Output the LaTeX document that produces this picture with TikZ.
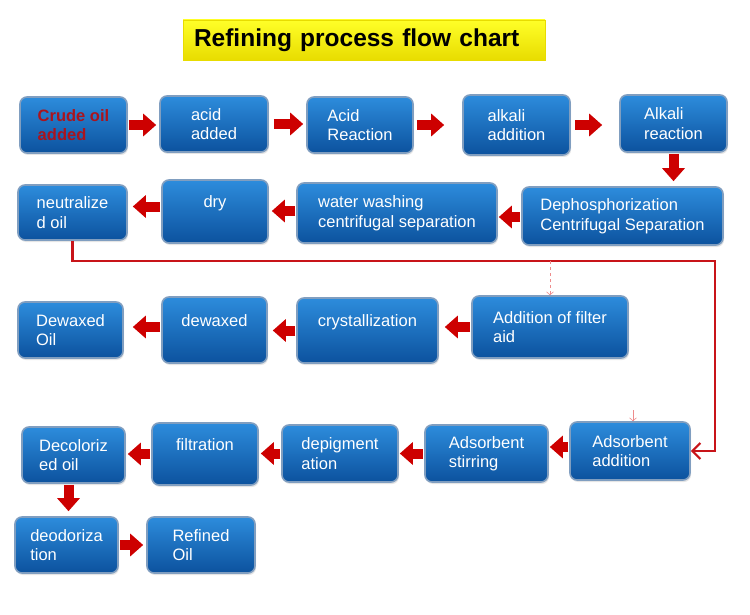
\documentclass[tikz,border=0pt]{standalone}
\usepackage{fontspec}
\setmainfont{Liberation Sans}
\usetikzlibrary{arrows.meta,shadows}
\definecolor{box_top}{RGB}{45,140,220}
\definecolor{box_bot}{RGB}{12,82,158}
\definecolor{box_rim}{RGB}{128,158,192}
\definecolor{edge_red}{RGB}{205,0,0}
\definecolor{line_red}{RGB}{200,20,25}
\definecolor{tap_red}{RGB}{238,140,140}
\definecolor{title_yell}{RGB}{255,255,40}
\definecolor{title_dark}{RGB}{232,220,0}
\definecolor{crude_red}{RGB}{170,20,30}

\begin{document}
\begin{tikzpicture}[x=1pt,y=-1pt,semithick]
    \tikzstyle{box}=[draw=box_rim, line width=1.6pt, rounded corners=7pt, top color=box_top, bottom color=box_bot, text=white, align=left, inner sep=0pt, font=\fontsize{16.5}{19.5}\selectfont, drop shadow={opacity=0.2,shadow xshift=1pt,shadow yshift=-2pt}]
    \tikzstyle{title}=[draw=title_dark, top color=title_yell, bottom color=title_dark, minimum width=362pt, minimum height=40pt, text width=340pt, inner xsep=11pt, align=left, font=\bfseries\fontsize{24.5}{29}\selectfont]
    \tikzstyle{flow}=[-{Triangle[width=22pt,length=13pt]}, line width=10pt, draw=edge_red, shorten <=1pt, shorten >=3pt]
    \tikzstyle{route}=[-{Straight Barb[length=8pt,width=16pt]}, line width=2.2pt, draw=line_red]
    \tikzstyle{tap}=[-{Straight Barb[length=3pt,width=7pt]}, semithick, dashed, draw=tap_red]

    \path[use as bounding box, fill=white] (0,0) rectangle (750,615);

    \node[title] (head) at (364,40) {Refining process flow chart};

    % row 1
    \node[box,minimum width=107pt,minimum height=56pt] (crude)    at (73.5,125)  {\color{crude_red}\bfseries Crude oil\\\color{crude_red}\bfseries added};
    \node[box,minimum width=108pt,minimum height=56pt] (acidadd)  at (214,124)   {acid\\added};
    \node[box,minimum width=106pt,minimum height=56pt] (acidreac) at (360,125)   {Acid\\Reaction};
    \node[box,minimum width=107pt,minimum height=60pt] (alkadd)   at (516.5,125) {alkali\\addition};
    \node[box,minimum width=107pt,minimum height=57pt] (alkreac)  at (673.5,123.5) {Alkali\\reaction};

    % row 2
    \node[box,minimum width=201pt,minimum height=58pt] (dephos)   at (622.5,216) {Dephosphorization\\Centrifugal Separation};
    \node[box,minimum width=200pt,minimum height=60pt] (wash)     at (397,213)   {water washing\\centrifugal separation};
    \node[box,minimum width=106pt,minimum height=63pt] (dry)      at (215,211.5) {dry\\~};
    \node[box,minimum width=109pt,minimum height=55pt] (neutral)  at (72.5,212.5) {neutralize\\d oil};

    % row 3
    \node[box,minimum width=156pt,minimum height=62pt] (filteraid) at (550,327)  {Addition of filter\\aid};
    \node[box,minimum width=141pt,minimum height=65pt] (cryst)    at (367.5,330.5) {crystallization\\~};
    \node[box,minimum width=105pt,minimum height=66pt] (dewaxed)  at (214.5,330) {dewaxed\\~};
    \node[box,minimum width=105pt,minimum height=56pt] (dewaxoil) at (70.5,330)  {Dewaxed\\Oil};

    % row 4
    \node[box,minimum width=120pt,minimum height=58pt] (adsadd)   at (630,451)   {Adsorbent\\addition};
    \node[box,minimum width=123pt,minimum height=57pt] (adsstir)  at (486.5,453.5) {Adsorbent\\stirring};
    \node[box,minimum width=116pt,minimum height=57pt] (depig)    at (340,453.5) {depigment\\ation};
    \node[box,minimum width=106pt,minimum height=62pt] (filtr)    at (205,454)   {filtration\\~};
    \node[box,minimum width=103pt,minimum height=56pt] (decol)    at (73.5,455)  {Decoloriz\\ed oil};

    % row 5
    \node[box,minimum width=103pt,minimum height=56pt] (deodor)   at (66.5,545)  {deodoriza\\tion};
    \node[box,minimum width=108pt,minimum height=56pt] (refined)  at (201,545)   {Refined\\Oil};

    \coordinate (rim)  at (715,261);
    \coordinate (tick) at (633,410);

    \path
     (crude.east)     edge[flow] (crude.east -| acidadd.west)
     (acidadd.east)   edge[flow,shorten <=5pt] (acidadd.east -| acidreac.west)
     (acidreac.east)  edge[flow,shorten <=3pt,shorten >=18pt] (acidreac.east -| alkadd.west)
     (alkadd.east)    edge[flow,shorten <=4pt,shorten >=17pt] (alkadd.east -| alkreac.west)
     (alkreac.south)  edge[flow,shorten >=5pt] (alkreac.south |- dephos.north)
     ([yshift=-1pt]dephos.west) edge[flow,shorten >=1pt] ([yshift=-1pt]dephos.west -| wash.east)
     ([yshift=2pt]wash.west)    edge[flow] ([yshift=2pt]wash.west -| dry.east)
     ([yshift=5pt]dry.west)     edge[flow,shorten >=5pt] ([yshift=5pt]dry.west -| neutral.east)
     (filteraid.west) edge[flow,shorten >=6pt] (filteraid.west -| cryst.east)
     (cryst.west)     edge[flow,shorten >=5pt] (cryst.west -| dewaxed.east)
     ([yshift=3pt]dewaxed.west) edge[flow,shorten >=9pt] ([yshift=3pt]dewaxed.west -| dewaxoil.east)
     ([yshift=4pt]adsadd.west)  edge[flow,shorten >=1pt] ([yshift=4pt]adsadd.west -| adsstir.east)
     (adsstir.west)   edge[flow,shorten >=1pt] (adsstir.west -| depig.east)
     (depig.west)     edge[flow,shorten >=2pt] (depig.west -| filtr.east)
     (filtr.west)     edge[flow,shorten >=2pt] (filtr.west -| decol.east)
     ([xshift=-5pt]decol.south) edge[flow,shorten >=5pt] ([xshift=-5pt]decol.south |- deodor.north)
     (deodor.east)    edge[flow] (deodor.east -| refined.west)
     ;

    \draw[route] (neutral.south) |- (rim) |- (adsadd.east);
    \draw[tap] (filteraid.north |- rim) -- (filteraid.north);
    \draw[tap,solid] (tick) -- (tick |- adsadd.north);
  \end{tikzpicture}
\end{document}
